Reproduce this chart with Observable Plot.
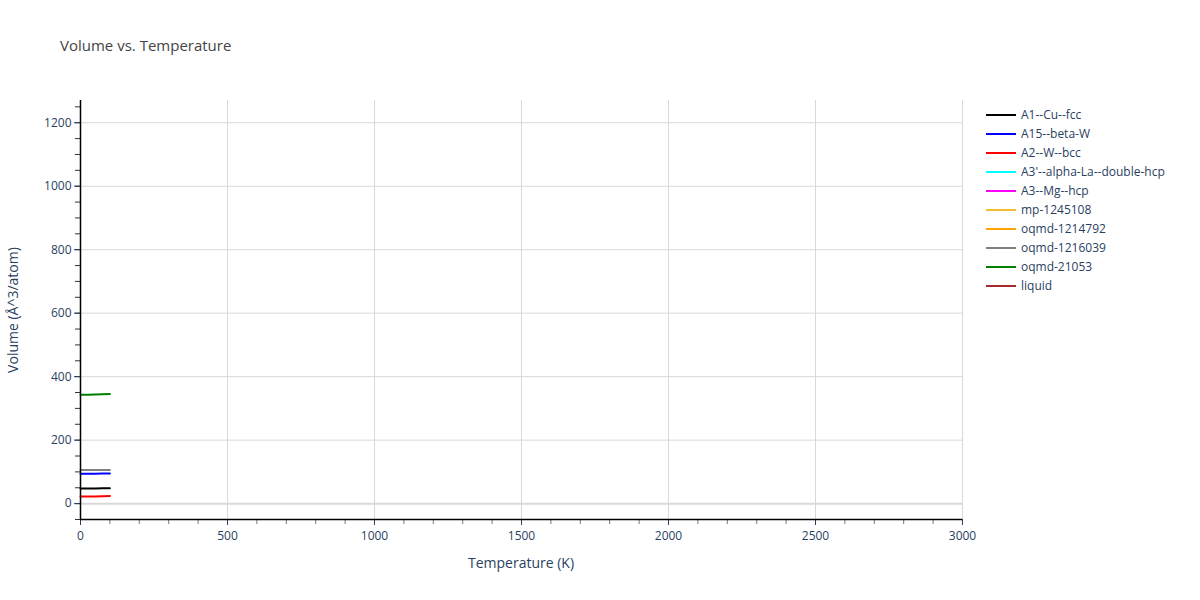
<!DOCTYPE html>
<html>
<head>
<meta charset="utf-8">
<script src="https://cdn.jsdelivr.net/npm/d3@7"></script>
<script src="https://cdn.jsdelivr.net/npm/@observablehq/plot@0.6"></script>
<style>
  body { margin: 0; background: #fff; font-family: "Open Sans", "DejaVu Sans", sans-serif; }
  #wrap { position: relative; width: 1200px; height: 600px; }
  #title { position: absolute; left: 60px; top: 35px; font-size: 15px; color: #444; }
  #legend { position: absolute; left: 986px; top: 105px; font-size: 12px; color: #2a3f5f; }
  .li { height: 19px; display: flex; align-items: center; }
  .sw { width: 30px; height: 2px; margin-right: 5px; }
  #xlabel { position: absolute; left: 0; width: 1042px; text-align: center; top: 553px; font-size: 14px; color: #2a3f5f; }
  #ylabel { position: absolute; left: 12px; top: 310px; transform: translate(-50%, -50%) rotate(-90deg); font-size: 14px; color: #2a3f5f; white-space: nowrap; }
</style>
</head>
<body>
<div id="wrap">
  <div id="chart"></div>
  <div id="title">Volume vs. Temperature</div>
  <div id="legend"></div>
  <div id="xlabel">Temperature (K)</div>
  <div id="ylabel">Volume (Å^3/atom)</div>
</div>
<script>
const seriesNames = ["A1--Cu--fcc", "A15--beta-W", "A2--W--bcc", "A3'--alpha-La--double-hcp", "A3--Mg--hcp", "mp-1245108", "oqmd-1214792", "oqmd-1216039", "oqmd-21053", "liquid"];
const seriesColors = ["black", "blue", "red", "cyan", "magenta", "#f0c030", "orange", "gray", "green", "brown"];
const temps = [0, 25, 50, 75, 100];
const volA1 = [47.6, 47.6, 47.8, 48.1, 48.6];
const volA15 = [94.4, 94.4, 94.5, 94.7, 95.0];
const volA2 = [22.6, 22.6, 22.8, 23.2, 23.8];
const volA3p = [];
const volA3 = [];
const volMp = [];
const volOq1214792 = [];
const volOq1216039 = [105.6, 105.6, 105.7, 105.9, 106.2];
const volOq21053 = [343.2, 343.3, 343.8, 344.6, 345.6];
const volLiquid = [];
const xTicks = [0, 500, 1000, 1500, 2000, 2500, 3000];
const xMinor = d3.range(0, 3001, 100);
const yTicks = [0, 200, 400, 600, 800, 1000, 1200];
const yMinor = d3.range(-50, 1251, 50);

const allVols = [volA1, volA15, volA2, volA3p, volA3, volMp, volOq1214792, volOq1216039, volOq21053, volLiquid];
const rows = [];
allVols.forEach((vals, i) => vals.forEach((v, j) => rows.push({series: seriesNames[i], T: temps[j], V: v})));

const chart = Plot.plot({
  width: 1200, height: 600,
  marginLeft: 80, marginRight: 238, marginTop: 100, marginBottom: 81,
  style: {fontFamily: "'Open Sans', 'DejaVu Sans', sans-serif", fontSize: "12px", color: "#2a3f5f", background: "white"},
  x: {domain: [0, 3000]},
  y: {domain: [-50, 1270]},
  color: {domain: seriesNames, range: seriesColors},
  marks: [
    Plot.gridX(xTicks, {stroke: "#d8d8d8", strokeOpacity: 1}),
    Plot.gridY(yTicks.filter(d => d !== 0), {stroke: "#d8d8d8", strokeOpacity: 1}),
    Plot.ruleY([0], {stroke: "#d8d8d8", strokeWidth: 2}),
    Plot.lineY(rows, {x: "T", y: "V", z: "series", stroke: "series", strokeWidth: 2}),
    Plot.axisX(xMinor, {tickSize: 5, text: null, stroke: "#777", label: null}),
    Plot.axisX(xTicks, {tickSize: 6, tickFormat: d => String(d), label: null, tickPadding: 6, fontSize: 12}),
    Plot.axisY(yMinor, {tickSize: 5, text: null, stroke: "#333", label: null}),
    Plot.axisY(yTicks, {tickSize: 6, tickFormat: d => String(d), label: null, tickPadding: 3, fontSize: 12}),
    Plot.ruleX([0], {stroke: "black", strokeWidth: 1.5}),
    Plot.ruleY([-50], {stroke: "black", strokeWidth: 1.5})
  ]
});
document.getElementById("chart").appendChild(chart);

const leg = document.getElementById("legend");
seriesNames.forEach((n, i) => {
  const d = document.createElement("div");
  d.className = "li";
  d.innerHTML = `<span class="sw" style="background:${seriesColors[i]}"></span><span>${n}</span>`;
  leg.appendChild(d);
});
</script>
</body>
</html>
